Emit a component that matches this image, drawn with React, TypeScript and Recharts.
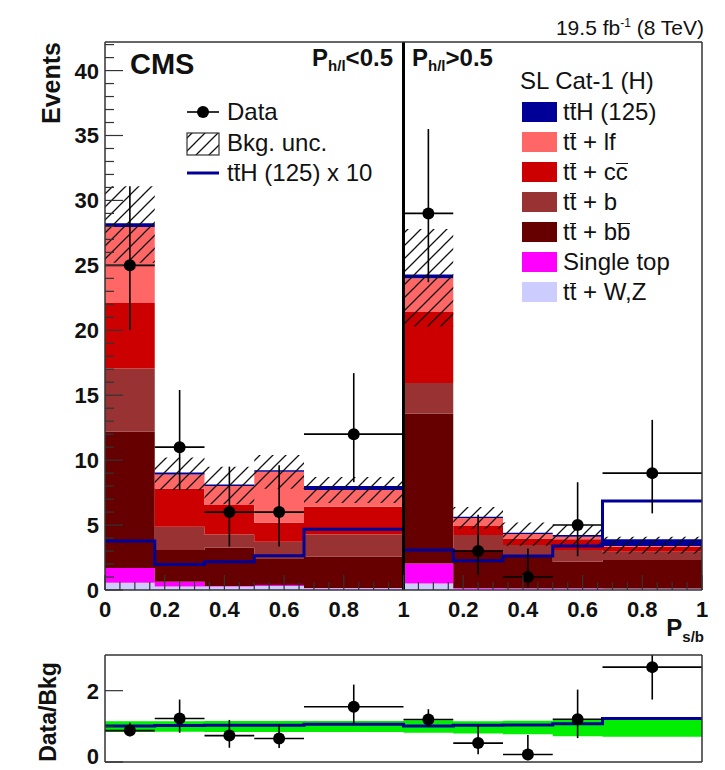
import React from "react"
import { Area, ComposedChart, ErrorBar, Line, ReferenceLine, Scatter, XAxis, YAxis } from "recharts"

const FONT = '"Liberation Sans", Arial, Helvetica, sans-serif'

// bin edges on the combined axis: 0-1 is P_h/l<0.5, 1-2 is P_h/l>0.5
const binEdges = [0, 1 / 6, 1 / 3, 1 / 2, 2 / 3, 1, 7 / 6, 4 / 3, 3 / 2, 5 / 3, 2]

// stacked backgrounds, bottom to top
const ttWZ = [0.55, 0.26, 0.26, 0.3, 0.13, 0.5, 0.1, 0.1, 0.1, 0.1]
const singleTop = [1.15, 0.38, 0.05, 0.08, 0.02, 1.55, 0.05, 0.03, 0.03, 0.02]
const ttbb = [10.5, 2.44, 2.95, 2.06, 2.41, 11.55, 2.93, 2.56, 2.05, 2.19]
const ttb = [4.85, 1.79, 1.02, 1.28, 1.72, 2.35, 1.15, 0.77, 0.9, 0.64]
const ttcc = [5.05, 2.95, 2.26, 1.46, 2.13, 5.45, 0.69, 0.51, 0.82, 0.38]
const ttlf = [5.85, 1.08, 1.46, 3.92, 1.29, 2.6, 0.62, 0.34, 0.2, 0.05]
const ttH = [0.3, 0.15, 0.13, 0.13, 0.3, 0.3, 0.1, 0.1, 0.13, 0.52]

const bkgUncLow = [25.2, 7.7, 6.6, 7.8, 6.7, 20.3, 4.7, 3.4, 3.3, 2.8]
const bkgUncHigh = [31.1, 10.2, 9.5, 10.4, 8.7, 27.8, 6.4, 5.2, 5.0, 4.1]
const ttHx10 = [3.77, 1.97, 2.18, 2.64, 4.67, 3.08, 2.26, 2.62, 3.38, 6.85]

const dataCounts = [25, 11, 6, 6, 12, 29, 3, 1, 5, 9]
const dataLow = [20.0, 7.7, 3.35, 3.35, 8.3, 23.7, 1.15, 0.2, 2.6, 5.9]
const dataHigh = [31.1, 15.4, 9.5, 9.6, 16.7, 35.5, 5.8, 3.2, 8.3, 13.1]

// ratio panel
const ratioValues = [0.88, 1.22, 0.74, 0.66, 1.55, 1.19, 0.53, 0.21, 1.2, 2.66]
const ratioLow = [0.72, 0.82, 0.4, 0.39, 1.07, 0.98, 0.22, 0.05, 0.67, 1.75]
const ratioHigh = [1.1, 1.75, 1.18, 1.06, 2.17, 1.48, 1.04, 0.76, 2.03, 3.0]
const bandLow = [0.84, 0.85, 0.84, 0.84, 0.84, 0.82, 0.8, 0.78, 0.72, 0.71]
const bandHigh = [1.14, 1.14, 1.15, 1.15, 1.15, 1.17, 1.14, 1.16, 1.2, 1.22]
const sigRatio = [1.01, 1.02, 1.03, 1.03, 1.06, 1.01, 1.03, 1.04, 1.07, 1.22]

const legendRows = [
  { color: "#000099", label: ["t", "t", "H (125)"] },
  { color: "#ff6666", label: ["t", "t", " + lf"] },
  { color: "#cc0000", label: ["t", "t", " + c", "c"] },
  { color: "#993333", label: ["t", "t", " + b"] },
  { color: "#660000", label: ["t", "t", " + b", "b"] },
  { color: "#ff00ff", label: ["Single top"] },
  { color: "#ccccff", label: ["t", "t", " + W,Z"] },
]

const lastBin = binEdges.length - 2

const histRows = binEdges.map((x, i) => {
  const b = Math.min(i, lastBin)
  return {
    x,
    ttWZ: ttWZ[b],
    singleTop: singleTop[b],
    ttbb: ttbb[b],
    ttb: ttb[b],
    ttcc: ttcc[b],
    ttlf: ttlf[b],
    ttH: ttH[b],
    unc: [bkgUncLow[b], bkgUncHigh[b]],
    ttHx10: ttHx10[b],
  }
})

const ratioRows = binEdges.map((x, i) => {
  const b = Math.min(i, lastBin)
  return { x, band: [bandLow[b], bandHigh[b]], sig: sigRatio[b] }
})

const points = (vals: number[], lo: number[], hi: number[]) =>
  vals.map((y, b) => ({
    x: (binEdges[b] + binEdges[b + 1]) / 2,
    y,
    ex: (binEdges[b + 1] - binEdges[b]) / 2,
    ey: [y - lo[b], hi[b] - y],
  }))

const dataPoints = points(dataCounts, dataLow, dataHigh)
const ratioPoints = points(ratioValues, ratioLow, ratioHigh)

const mainYTicks = Array.from({ length: 43 }, (_, i) => i)
const xTicks = Array.from({ length: 41 }, (_, i) => i / 20)

const stackKeys: [string, string][] = [
  ["ttWZ", "#ccccff"],
  ["singleTop", "#ff00ff"],
  ["ttbb", "#660000"],
  ["ttb", "#993333"],
  ["ttcc", "#cc0000"],
  ["ttlf", "#ff6666"],
  ["ttH", "#000099"],
]

const frame = { stroke: "#333", strokeWidth: 1.5 }

function xLabel(v: number) {
  const u = v > 1.001 ? v - 1 : v
  if (u < 0.001) return "0"
  if (u > 0.999) return "1"
  return u.toFixed(1)
}

function XTick(props: any) {
  const { x, y, payload } = props
  const k = Math.round(payload.value * 20)
  const major = k % 4 === 0
  return (
    <g>
      <line x1={x} x2={x} y1={y} y2={y - (major ? 15 : 8)} stroke="#333" strokeWidth={1.2} />
      {major && (
        <text x={x} y={y + 27} textAnchor="middle" fontFamily={FONT} fontWeight="bold" fontSize={22} fill="#111">
          {xLabel(payload.value)}
        </text>
      )}
    </g>
  )
}

function MainYTick(props: any) {
  const { x, y, payload } = props
  const major = payload.value % 5 === 0
  return (
    <g>
      <line x1={x} x2={x + (major ? 18 : 9)} y1={y} y2={y} stroke="#333" strokeWidth={1.2} />
      {major && (
        <text x={x - 6} y={y + 8} textAnchor="end" fontFamily={FONT} fontWeight="bold" fontSize={22} fill="#111">
          {payload.value}
        </text>
      )}
    </g>
  )
}

function RatioYTick(props: any) {
  const { x, y, payload } = props
  const major = payload.value % 2 === 0
  // the bottom label sits at the page edge, so lift it a little
  const dy = payload.value === 0 ? 2 : 8
  return (
    <g>
      <line x1={x} x2={x + (major ? 18 : 9)} y1={y} y2={y} stroke="#333" strokeWidth={1.2} />
      {major && (
        <text x={x - 6} y={y + dy} textAnchor="end" fontFamily={FONT} fontWeight="bold" fontSize={22} fill="#111">
          {payload.value}
        </text>
      )}
    </g>
  )
}

function RatioYTickRight(props: any) {
  const { x, y, payload } = props
  const major = payload.value % 2 === 0
  return <line x1={x} x2={x - (major ? 18 : 9)} y1={y} y2={y} stroke="#333" strokeWidth={1.2} />
}

const dot = (r: number) => (props: any) => <circle cx={props.cx} cy={props.cy} r={r} fill="#000" />

// bar drawn as a top border so it sits right above the letter
const ob = (s: string) => (
  <span style={{ display: "inline-block", borderTop: "1.5px solid #111", lineHeight: "16px" }}>{s}</span>
)

function LegendLabel({ parts }: { parts: string[] }) {
  if (parts.length === 1) return <>{parts[0]}</>
  return (
    <>
      {parts[0]}
      {ob(parts[1])}
      {parts[2]}
      {parts[3] ? ob(parts[3]) : null}
    </>
  )
}

const txt: React.CSSProperties = {
  position: "absolute",
  fontFamily: FONT,
  fontSize: 24,
  lineHeight: "24px",
  color: "#111",
  whiteSpace: "nowrap",
}

const hatchPath = "M-1,14 L14,-1 M-4,4 L4,-4 M9,17 L17,9"

export default function App() {
  return (
    <div style={{ position: "absolute", left: 0, top: 0, width: 725, height: 770, background: "#fff", overflow: "hidden" }}>
      <div style={{ position: "absolute", left: 0, top: 0 }}>
        <ComposedChart width={725} height={625} data={histRows} margin={{ top: 41, right: 22, bottom: 0, left: 0 }}>
          <defs>
            <pattern id="hatch" patternUnits="userSpaceOnUse" width={13} height={13}>
              <path d={hatchPath} stroke="#111" strokeWidth={1.3} />
            </pattern>
          </defs>
          <XAxis
            dataKey="x"
            type="number"
            domain={[0, 2]}
            ticks={xTicks}
            interval={0}
            height={35}
            tickSize={0}
            tickMargin={0}
            tickLine={false}
            tick={<XTick />}
            axisLine={frame}
            allowDataOverflow
          />
          <XAxis xAxisId="top" orientation="top" type="number" domain={[0, 2]} height={1} tick={false} tickLine={false} axisLine={frame} />
          <YAxis
            type="number"
            domain={[0, 42.2]}
            ticks={mainYTicks}
            interval={0}
            width={105}
            tickSize={0}
            tickMargin={0}
            tickLine={false}
            tick={<MainYTick />}
            axisLine={frame}
            allowDataOverflow
          />
          <YAxis yAxisId="right" orientation="right" type="number" domain={[0, 42.2]} width={1} tick={false} tickLine={false} axisLine={frame} />
          {stackKeys.map(([key, color]) => (
            <Area
              key={key}
              dataKey={key}
              stackId="bkg"
              type="stepAfter"
              fill={color}
              fillOpacity={1}
              stroke="none"
              dot={false}
              activeDot={false}
              isAnimationActive={false}
            />
          ))}
          <Area dataKey="unc" type="stepAfter" fill="url(#hatch)" fillOpacity={1} stroke="none" dot={false} activeDot={false} isAnimationActive={false} />
          <Line dataKey="ttHx10" type="stepAfter" stroke="#000099" strokeWidth={3} dot={false} activeDot={false} isAnimationActive={false} />
          <ReferenceLine x={1} stroke="#000" strokeWidth={3} />
          <Scatter data={dataPoints} dataKey="y" fill="#000" shape={dot(6)} isAnimationActive={false}>
            <ErrorBar dataKey="ex" direction="x" width={0} stroke="#000" strokeWidth={1.6} isAnimationActive={false} />
            <ErrorBar dataKey="ey" direction="y" width={0} stroke="#000" strokeWidth={1.6} isAnimationActive={false} />
          </Scatter>
        </ComposedChart>
      </div>

      <div style={{ position: "absolute", left: 0, top: 620 }}>
        <ComposedChart width={725} height={150} data={ratioRows} margin={{ top: 34, right: 22, bottom: 7, left: 0 }}>
          <XAxis dataKey="x" type="number" domain={[0, 2]} height={1} tick={false} tickLine={false} axisLine={frame} allowDataOverflow />
          <XAxis xAxisId="top" orientation="top" type="number" domain={[0, 2]} height={1} tick={false} tickLine={false} axisLine={frame} />
          <YAxis
            type="number"
            domain={[0, 3]}
            ticks={[0, 1, 2]}
            interval={0}
            width={105}
            tickSize={0}
            tickMargin={0}
            tickLine={false}
            tick={<RatioYTick />}
            axisLine={frame}
            allowDataOverflow
          />
          <YAxis
            yAxisId="right"
            orientation="right"
            type="number"
            domain={[0, 3]}
            ticks={[0, 1, 2]}
            interval={0}
            width={1}
            tickSize={0}
            tickMargin={0}
            tickLine={false}
            tick={<RatioYTickRight />}
            axisLine={frame}
          />
          <Area dataKey="band" type="stepAfter" fill="#00ee00" fillOpacity={1} stroke="none" dot={false} activeDot={false} isAnimationActive={false} />
          <Line dataKey="sig" type="stepAfter" stroke="#000099" strokeWidth={3} dot={false} activeDot={false} isAnimationActive={false} />
          <Scatter data={ratioPoints} dataKey="y" fill="#000" shape={dot(6)} isAnimationActive={false}>
            <ErrorBar dataKey="ex" direction="x" width={0} stroke="#000" strokeWidth={1.6} isAnimationActive={false} />
            <ErrorBar dataKey="ey" direction="y" width={0} stroke="#000" strokeWidth={1.6} isAnimationActive={false} />
          </Scatter>
        </ComposedChart>
      </div>

      {/* overlay: titles, legend symbols */}
      <svg width={725} height={770} style={{ position: "absolute", left: 0, top: 0, pointerEvents: "none" }}>
        <defs>
          <pattern id="hatchLegend" patternUnits="userSpaceOnUse" width={13} height={13}>
            <path d={hatchPath} stroke="#111" strokeWidth={1.3} />
          </pattern>
        </defs>
        <text transform="translate(60,42) rotate(-90)" textAnchor="end" fontFamily={FONT} fontWeight="bold" fontSize={25} fill="#111">
          Events
        </text>
        <text transform="translate(56,712) rotate(-90)" textAnchor="middle" fontFamily={FONT} fontWeight="bold" fontSize={23} fill="#111">
          Data/Bkg
        </text>
        {/* left legend symbols */}
        <line x1={187} x2={219} y1={112} y2={112} stroke="#000" strokeWidth={1.6} />
        <circle cx={203} cy={112} r={6} fill="#000" />
        <rect x={187} y={133} width={32} height={22} fill="url(#hatchLegend)" stroke="#333" strokeWidth={1.2} />
        <line x1={187} x2={219} y1={173} y2={173} stroke="#000099" strokeWidth={3} />
        {/* right legend boxes */}
        {legendRows.map((r, i) => (
          <rect key={i} x={522} y={102 + i * 30} width={35} height={20} fill={r.color} />
        ))}
      </svg>

      <div style={{ ...txt, left: 704, top: 11, transform: "translateX(-100%)", fontSize: 21 }}>
        19.5 fb<sup style={{ fontSize: 12, verticalAlign: 8 }}>-1</sup> (8 TeV)
      </div>
      <div style={{ ...txt, left: 130, top: 50, fontSize: 29, lineHeight: "29px", fontWeight: "bold" }}>CMS</div>
      <div style={{ ...txt, left: 393, top: 46, transform: "translateX(-100%)", fontWeight: "bold" }}>
        P<span style={{ fontSize: 15, verticalAlign: -5 }}>h/l</span>&lt;0.5
      </div>
      <div style={{ ...txt, left: 412, top: 46, fontWeight: "bold" }}>
        P<span style={{ fontSize: 15, verticalAlign: -5 }}>h/l</span>&gt;0.5
      </div>
      <div style={{ ...txt, left: 704, top: 616, transform: "translateX(-100%)", fontWeight: "bold" }}>
        P<span style={{ fontSize: 15, verticalAlign: -6 }}>s/b</span>
      </div>

      <div style={{ ...txt, left: 227, top: 100 }}>Data</div>
      <div style={{ ...txt, left: 227, top: 131 }}>Bkg. unc.</div>
      <div style={{ ...txt, left: 227, top: 161 }}>
        t{ob("t")}H (125) x 10
      </div>

      <div style={{ ...txt, left: 520, top: 69 }}>SL Cat-1 (H)</div>
      {legendRows.map((r, i) => (
        <div key={i} style={{ ...txt, left: 563, top: 100 + i * 30 }}>
          <LegendLabel parts={r.label} />
        </div>
      ))}
    </div>
  )
}
